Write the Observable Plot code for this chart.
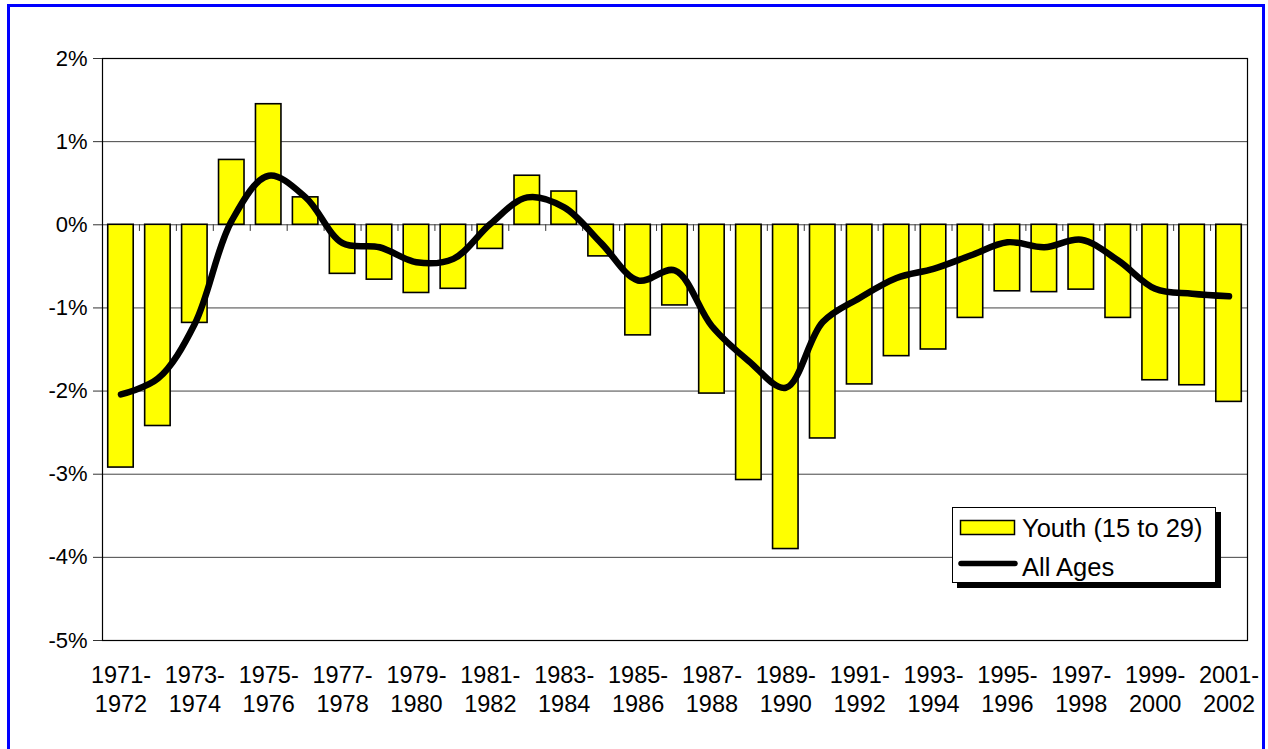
<!DOCTYPE html>
<html><head><meta charset="utf-8">
<script src="https://cdn.jsdelivr.net/npm/d3@7"></script>
<script src="https://cdn.jsdelivr.net/npm/@observablehq/plot@0.6"></script>
<style>
body{margin:0;background:#fff;font-family:"Liberation Sans",Arial,sans-serif;overflow:hidden;}
#frame{position:absolute;left:7px;top:4px;width:1258px;height:800px;border:3px solid #0000ff;box-sizing:border-box;}
#chart{position:absolute;left:0;top:0;}
#legend{position:absolute;left:952px;top:507px;width:264px;height:76px;border:1px solid #000;background:#fff;box-shadow:5px 5px 0 #000;box-sizing:border-box;}
#legend svg{display:block;}
</style></head><body>
<div id="frame"></div>
<div id="chart"></div>
<div id="legend">
<svg width="264" height="76" font-family="Liberation Sans, Arial, sans-serif" font-size="25.5">
<rect x="7.5" y="12.5" width="54" height="14" fill="#ffff00" stroke="#000" stroke-width="1.5"/>
<text x="69" y="20" dominant-baseline="central" fill="#000">Youth (15 to 29)</text>
<line x1="8" y1="55.5" x2="62" y2="55.5" stroke="#000" stroke-width="5.5" stroke-linecap="round"/>
<text x="69" y="58.5" dominant-baseline="central" fill="#000">All Ages</text>
</svg>
</div>
<script>
const periods = ["1971-1972","1972-1973","1973-1974","1974-1975","1975-1976","1976-1977","1977-1978","1978-1979","1979-1980","1980-1981","1981-1982","1982-1983","1983-1984","1984-1985","1985-1986","1986-1987","1987-1988","1988-1989","1989-1990","1990-1991","1991-1992","1992-1993","1993-1994","1994-1995","1995-1996","1996-1997","1997-1998","1998-1999","1999-2000","2000-2001","2001-2002"];
const youth = [-2.92,-2.42,-1.18,0.78,1.45,0.33,-0.59,-0.66,-0.82,-0.77,-0.29,0.59,0.40,-0.38,-1.33,-0.97,-2.03,-3.07,-3.90,-2.57,-1.92,-1.58,-1.50,-1.12,-0.80,-0.81,-0.78,-1.12,-1.87,-1.93,-2.13];
const allAges = [-2.04,-1.85,-1.19,0.05,0.59,0.33,-0.22,-0.27,-0.45,-0.41,0.01,0.33,0.21,-0.22,-0.67,-0.55,-1.22,-1.64,-1.96,-1.17,-0.88,-0.64,-0.53,-0.37,-0.21,-0.27,-0.18,-0.43,-0.77,-0.83,-0.86];
const yTicks = [-5,-4,-3,-2,-1,0,1,2];
const gridLines = [-4,-3,-2,-1,0,1];
const labelPeriods = periods.filter((d,i)=>i%2===0);

const data = periods.map((p,i)=>({period:p, youth:youth[i], all:allAges[i]}));

const W = 1268, H = 749, ML = 102, MR = 21, MT = 58, MB = 109;
const halfStep = (W - ML - MR) / periods.length / 2;

const chart = Plot.plot({
  width: W, height: H,
  marginLeft: ML, marginRight: MR, marginTop: MT, marginBottom: MB,
  style: {fontFamily: "Liberation Sans, Arial, sans-serif", background: "transparent", color: "#000"},
  x: {type: "band", domain: periods, paddingInner: 0.31, paddingOuter: 0.155, round: false, axis: null},
  y: {domain: [-5, 2], axis: null},
  marks: [
    Plot.ruleY(gridLines, {stroke: "#444", strokeWidth: 1}),
    Plot.barY(data, {x: "period", y: "youth", fill: "#ffff00", stroke: "#000", strokeWidth: 1.6}),
    Plot.ruleX(periods, {x: d=>d, y1: 0, y2: -0.08, dx: -halfStep, stroke: "#333"}),
    Plot.frame({stroke: "#000", strokeWidth: 1.2}),
    Plot.axisY({ticks: yTicks, tickFormat: d => d + "%", tickSize: 9, tickPadding: 6, fontSize: 22, stroke: "#333"}),
    Plot.text(labelPeriods, {x: d=>d, frameAnchor: "bottom", text: d => d.replace("-", "-\n"), lineAnchor: "top", dy: 22, fontSize: 23.5, lineHeight: 1.23, fill: "#000"}),
    Plot.line(data, {x: "period", y: "all", stroke: "#000", strokeWidth: 6.5, curve: "catmull-rom", strokeLinecap: "round", strokeLinejoin: "round"})
  ]
});
document.getElementById("chart").appendChild(chart);
</script>
</body></html>
